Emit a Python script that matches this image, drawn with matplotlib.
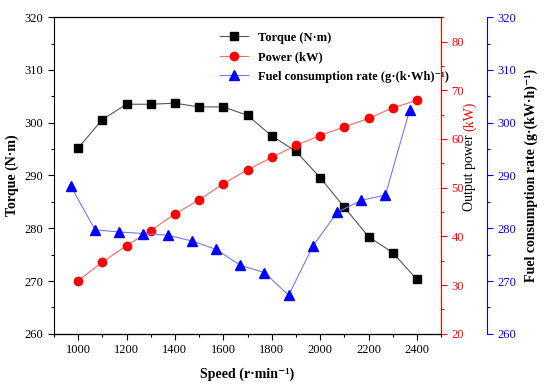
import numpy as np
import matplotlib
matplotlib.use("Agg")
import matplotlib.pyplot as plt
from matplotlib.ticker import MultipleLocator

plt.rcParams["font.family"] = ["Liberation Serif", "DejaVu Serif"]
plt.rcParams["mathtext.fontset"] = "stix"

# --- data ---
speed = [1000, 1100, 1200, 1300, 1400, 1500, 1600, 1700, 1800, 1900, 2000, 2100, 2200, 2300, 2400]
torque = [295.2, 300.6, 303.5, 303.5, 303.7, 303.0, 303.0, 301.4, 297.5, 294.6, 289.6, 284.0, 278.4, 275.4, 270.3]
power = [30.9, 34.7, 38.1, 41.2, 44.6, 47.5, 50.8, 53.7, 56.2, 58.7, 60.7, 62.5, 64.2, 66.4, 67.9]

fuel_speed = [970, 1070, 1170, 1270, 1370, 1470, 1570, 1670, 1770, 1870, 1970, 2070, 2170, 2270, 2370]
fuel = [288.0, 279.7, 279.3, 279.0, 278.7, 277.6, 276.0, 273.0, 271.6, 267.3, 276.6, 283.0, 285.3, 286.3, 302.4]

FS = 9

fig = plt.figure(figsize=(5.5, 3.9), dpi=100)
ax = fig.add_axes([0.098, 0.144, 0.704, 0.812])
ax2 = ax.twinx()
ax3 = ax.twinx()
ax3.spines["right"].set_position(("axes", 1.119))

l1, = ax.plot(speed, torque, color="#555555", lw=0.8, marker="s", ms=5.2,
              mfc="black", mec="black", label="Torque (N·m)")
l2, = ax2.plot(speed, power, color="#ff6666", lw=0.8, marker="o", ms=6,
               mfc="red", mec="red", label="Power (kW)")
l3, = ax3.plot(fuel_speed, fuel, color="#7777ff", lw=0.8, marker="^", ms=6.5,
               mfc="blue", mec="blue", label="Fuel consumption rate (g·(k·Wh)⁻¹)")

ax.set_xlim(900, 2500)
ax.set_ylim(260, 320)
ax2.set_ylim(20, 85)
ax3.set_ylim(260, 320)

ax.xaxis.set_major_locator(MultipleLocator(200))
ax.xaxis.set_minor_locator(MultipleLocator(100))
ax.yaxis.set_major_locator(MultipleLocator(10))
ax.yaxis.set_minor_locator(MultipleLocator(5))
ax2.yaxis.set_major_locator(MultipleLocator(10))
ax2.yaxis.set_minor_locator(MultipleLocator(5))
ax3.yaxis.set_major_locator(MultipleLocator(10))
ax3.yaxis.set_minor_locator(MultipleLocator(5))

for a in (ax, ax2, ax3):
    a.tick_params(which="major", length=4, width=0.8, labelsize=FS)
    a.tick_params(which="minor", length=2.5, width=0.8)

ax.spines["right"].set_visible(False)
ax2.spines["left"].set_visible(False)
ax2.spines["right"].set_color("red")
ax2.tick_params(axis="y", colors="red", which="both")
ax3.spines["left"].set_visible(False)
ax3.spines["top"].set_visible(False)
ax3.spines["right"].set_color("blue")
ax3.tick_params(axis="y", colors="blue", which="both")

ax.set_xlabel("Speed (r·min⁻¹)", fontsize=10, fontweight="bold", labelpad=8)
ax.set_ylabel("Torque (N·m)", fontsize=10, fontweight="bold", labelpad=4)
ax3.set_ylabel("Fuel consumption rate (g·(kW·h)⁻¹)", fontsize=10, fontweight="bold", labelpad=6)

# two-coloured right label
fig.text(0.853, 0.664, "Output power ", rotation=90, ha="center", va="top", fontsize=10, color="black")
fig.text(0.853, 0.664, "(kW)", rotation=90, ha="center", va="bottom", fontsize=10, color="red")

leg = ax.legend(handles=[l1, l2, l3], loc="upper left", bbox_to_anchor=(0.4, 0.99),
                frameon=False, prop={"weight": "bold", "size": FS}, handlelength=2.2,
                labelspacing=0.6)

fig.savefig("out.png", dpi=100)
